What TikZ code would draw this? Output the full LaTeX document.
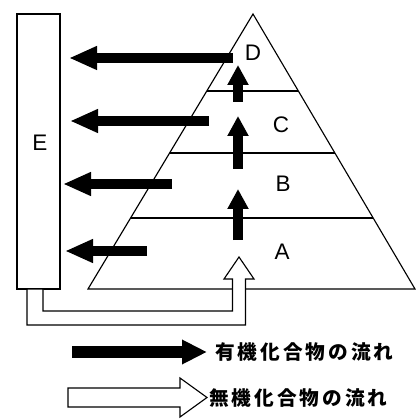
\documentclass[tikz,border=0pt]{standalone}
\usepackage{fontspec}
\setmainfont{Liberation Sans}
\newfontfamily\jpfont[LetterSpace=15]{Noto Sans CJK JP}
\usetikzlibrary{arrows.meta}

\tikzset{
	linie/.style={line width=0.8pt, line join=miter},
	stoffpfeil/.style={line width=2.6mm, -{Triangle[length=7mm,width=5.5mm]}},
	stufenpfeil/.style={line width=2.5mm, -{Triangle[length=5mm,width=5mm]}},
	legpfeil/.style={line width=3mm, -{Triangle[length=6.25mm,width=5.75mm]}},
	stufe/.style={font=\fontsize{16}{19}\selectfont, inner sep=0pt},
	legtext/.style={font=\jpfont\bfseries\fontsize{14}{16}\selectfont, anchor=west, inner sep=0pt}
}

\begin{document}
\begin{tikzpicture}[x=0.25mm, y=-0.25mm]
		
		\useasboundingbox (0,0) rectangle (420,419);
		
		% Kasten E
		\draw[linie] (17,14) rectangle (60,289);
		\node[stufe] (labelE) at (40,143) {E};
		
		% Pyramide
		\draw[linie] (253,14) -- (88,289) -- (415,289) -- cycle;
		\draw[linie] (207,91) -- (298,91);
		\draw[linie] (170,153) -- (335,153);
		\draw[linie] (131,218) -- (373,218);
		
		% Stufen beschriften
		\node[stufe] (labelD) at (253,53) {D};
		\node[stufe] (labelC) at (281,125) {C};
		\node[stufe] (labelB) at (283,184) {B};
		\node[stufe] (labelA) at (282,252) {A};
		
		% Pfeile zu E
		\draw[stoffpfeil] (233,58) -- (69,58);
		\draw[stoffpfeil] (209,121) -- (70,121);
		\draw[stoffpfeil] (172,184) -- (63,184);
		\draw[stoffpfeil] (147,251) -- (65,251);
		
		% Pfeile nach oben
		\draw[stufenpfeil] (238,102) -- (238,65);
		\draw[stufenpfeil] (238,169) -- (238,116);
		\draw[stufenpfeil] (238,240) -- (238,189);
		
		% Rueckfluss von E nach A
		\draw[linie, fill=white] (27,289) -- (27,325) -- (245.5,325) -- (245.5,279)
			-- (254,279) -- (239,257) -- (224,279) -- (232.5,279) -- (232.5,311)
			-- (43,311) -- (43,289) -- cycle;
		
		% Legende
		\draw[legpfeil] (72,352) -- (207,352);
		\node[legtext] (legOrg) at (215,352) {有機化合物の流れ};
		\draw[linie] (68,388) -- (180,388) -- (180,378) -- (207,397.5)
			-- (180,417) -- (180,407) -- (68,407) -- cycle;
		\node[legtext] (legAnorg) at (209,398) {無機化合物の流れ};
		
	\end{tikzpicture}
\end{document}
